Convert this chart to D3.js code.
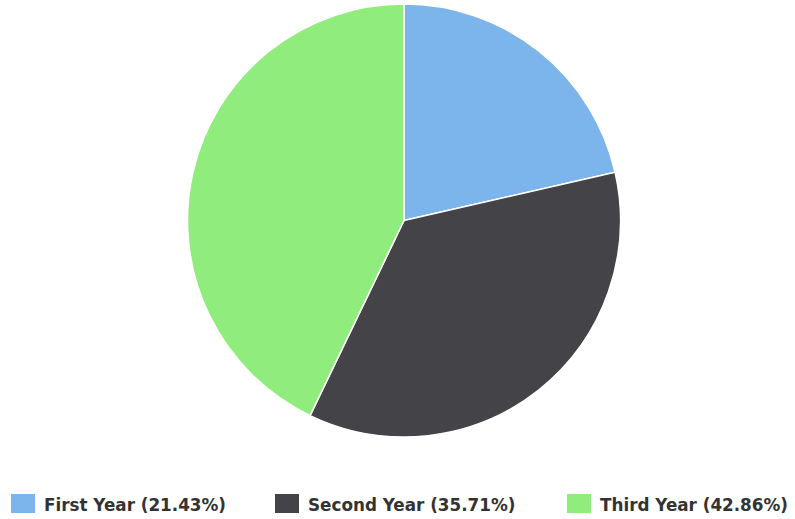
<!DOCTYPE html>
<html>
<head>
<meta charset="utf-8">
<script src="https://cdn.jsdelivr.net/npm/d3@7"></script>
<style>
  html, body { margin: 0; padding: 0; background: #fff; }
  svg { display: block; }
</style>
</head>
<body>
<svg id="chart" width="795" height="519"></svg>
<script>
// Enrollment share by year
const categories = ["First Year", "Second Year", "Third Year"];
const values = [3, 5, 6];
const colors = ["#7cb5ec", "#434348", "#90ed7d"];

const width = 795, height = 519;
const cx = 404, cy = 220.5, radius = 216.5;

const svg = d3.select("#chart");
const total = d3.sum(values);
const data = categories.map((c, i) => ({ name: c, value: values[i], color: colors[i] }));

const pie = d3.pie().value(d => d.value).sort(null);
const arc = d3.arc().innerRadius(0).outerRadius(radius);

svg.append("g")
  .attr("transform", `translate(${cx},${cy})`)
  .selectAll("path")
  .data(pie(data))
  .join("path")
  .attr("d", arc)
  .attr("fill", d => d.data.color)
  .attr("stroke", "#ffffff")
  .attr("stroke-width", 1.5)
  .attr("stroke-linejoin", "round");

// Legend row along the bottom
const legendX = [11, 275, 567];
const legend = svg.append("g");
const items = legend.selectAll("g")
  .data(data)
  .join("g")
  .attr("transform", (d, i) => `translate(${legendX[i]},494)`);

items.append("rect")
  .attr("width", 24)
  .attr("height", 19)
  .attr("fill", d => d.color);

items.append("text")
  .attr("x", 33)
  .attr("y", 17)
  .attr("font-family", "'DejaVu Sans', Verdana, sans-serif")
  .attr("font-weight", "bold")
  .attr("font-size", 16.8)
  .attr("fill", "#333333")
  .text(d => `${d.name} (${(d.value / total * 100).toFixed(2)}%)`);
</script>
</body>
</html>
